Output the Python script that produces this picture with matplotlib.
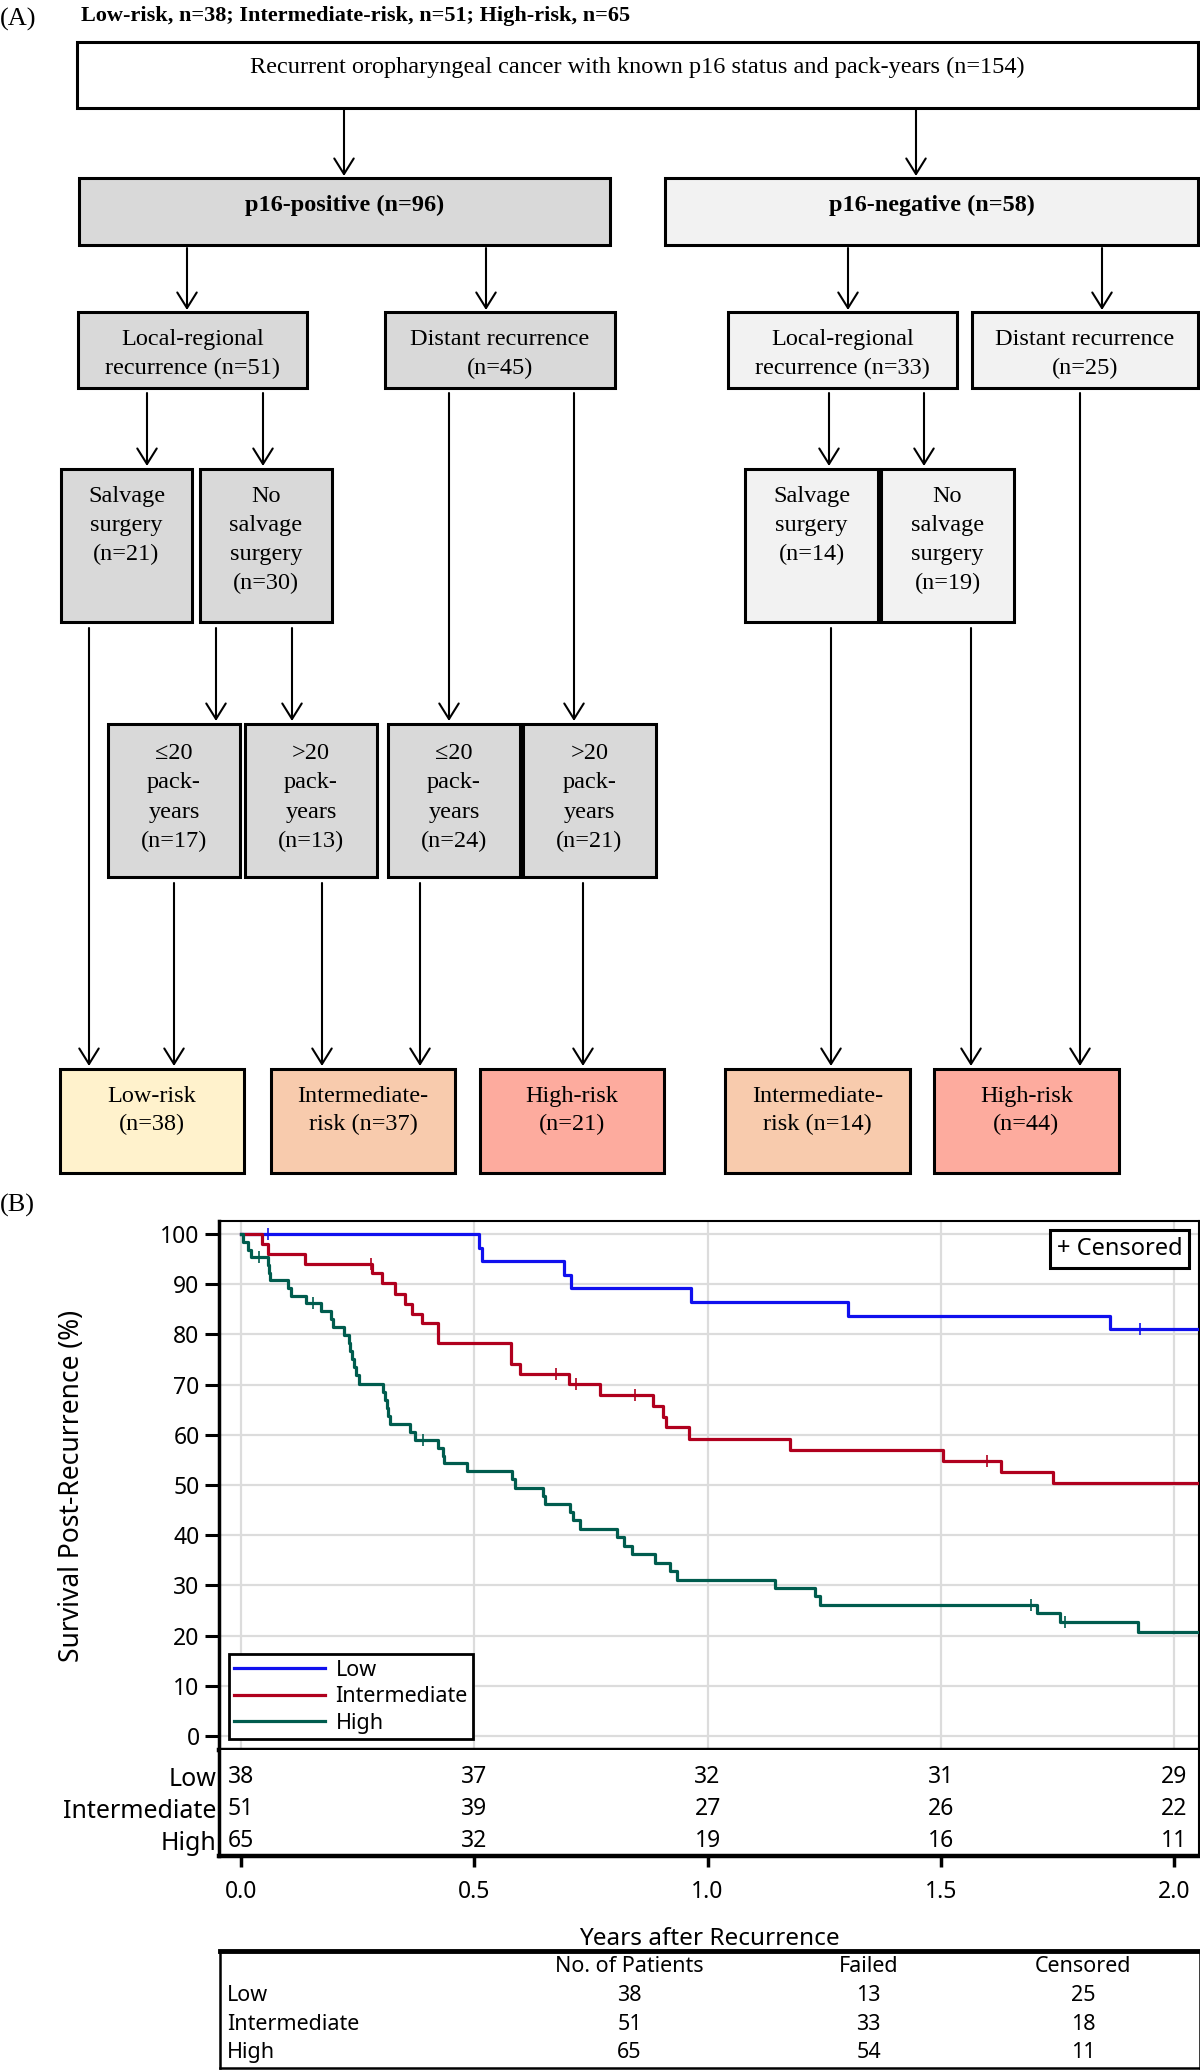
import numpy as np
import matplotlib
matplotlib.use('Agg')
import matplotlib.pyplot as plt
from matplotlib.patches import Rectangle

# ------------------------------------------------------------------ data
panel_a_title = "Low-risk, n=38; Intermediate-risk, n=51; High-risk, n=65"
top_label = "Recurrent oropharyngeal cancer with known p16 status and pack-years (n=154)"
p16_labels = ["p16-positive (n=96)", "p16-negative (n=58)"]
recurrence_labels = ["Local-regional\nrecurrence (n=51)", "Distant recurrence\n(n=45)",
                     "Local-regional\nrecurrence (n=33)", "Distant recurrence\n(n=25)"]
salvage_labels = ["Salvage\nsurgery\n(n=21)", "No\nsalvage\nsurgery\n(n=30)",
                  "Salvage\nsurgery\n(n=14)", "No\nsalvage\nsurgery\n(n=19)"]
packyear_labels = ["\u226420\npack-\nyears\n(n=17)", ">20\npack-\nyears\n(n=13)",
                   "\u226420\npack-\nyears\n(n=24)", ">20\npack-\nyears\n(n=21)"]
risk_labels = ["Low-risk\n(n=38)", "Intermediate-\nrisk (n=37)", "High-risk\n(n=21)",
               "Intermediate-\nrisk (n=14)", "High-risk\n(n=44)"]

groups = ["Low", "Intermediate", "High"]

times_low = [0, 0.511, 0.516, 0.692, 0.707, 0.965, 1.300, 1.863, 2.10]
surv_low = [100, 97.3, 94.6, 91.9, 89.2, 86.4, 83.7, 81.1, 81.1]
cens_low = [0.059, 1.926]

times_int = [0, 0.046, 0.059, 0.137, 0.280, 0.302, 0.330, 0.352, 0.366, 0.388, 0.423,
             0.579, 0.597, 0.704, 0.770, 0.883, 0.905, 0.910, 0.961, 1.176, 1.504,
             1.629, 1.740, 2.10]
surv_int = [100, 98.0, 96.0, 94.0, 92.2, 90.2, 88.0, 86.1, 84.1, 82.2, 78.2,
            74.1, 72.2, 70.1, 67.9, 65.7, 63.6, 61.5, 59.2, 57.0, 54.8,
            52.5, 50.3, 50.3]
cens_int = [0.278, 0.675, 0.717, 0.845, 1.598]

times_high = [0, 0.005, 0.015, 0.022, 0.057, 0.060, 0.062, 0.100, 0.107, 0.139,
              0.171, 0.192, 0.197, 0.220, 0.231, 0.234, 0.238, 0.243, 0.246, 0.252,
              0.305, 0.308, 0.312, 0.316, 0.320, 0.362, 0.373, 0.422, 0.434, 0.436,
              0.484, 0.580, 0.587, 0.648, 0.651, 0.705, 0.712, 0.726, 0.805, 0.820,
              0.838, 0.888, 0.920, 0.934, 1.145, 1.231, 1.241, 1.705, 1.755, 1.923, 2.10]
surv_high = [100, 98.5, 96.9, 95.4, 93.8, 92.3, 90.8, 89.2, 87.7, 86.2,
             84.6, 83.0, 81.4, 79.8, 78.2, 76.6, 75.1, 73.5, 71.9, 70.2,
             68.6, 67.0, 65.4, 63.8, 62.2, 60.6, 59.0, 57.4, 55.8, 54.3,
             52.7, 51.1, 49.5, 47.9, 46.2, 44.6, 43.0, 41.2, 39.6, 37.9,
             36.2, 34.5, 32.8, 31.1, 29.5, 27.8, 26.1, 24.4, 22.8, 20.8, 20.8]
cens_high = [0.039, 0.155, 0.391, 1.693, 1.765]

risk_times = [0.0, 0.5, 1.0, 1.5, 2.0]
atrisk_low = [38, 37, 32, 31, 29]
atrisk_int = [51, 39, 27, 26, 22]
atrisk_high = [65, 32, 19, 16, 11]

table_header = ["No. of Patients", "Failed", "Censored"]
n_patients = [38, 51, 65]
n_failed = [13, 33, 54]
n_censored = [25, 18, 11]

# ------------------------------------------------------------------ style
W, H = 1200, 2070
SERIF = ['Liberation Serif', 'DejaVu Serif']
SANS = ['Noto Sans', 'DejaVu Sans']
C_POS = '#d9d9d9'
C_NEG = '#f2f2f2'
C_LOW = '#fff2cc'
C_INT = '#f8cbad'
C_HIGH = '#fdab9e'
colors = {'Low': '#1010ee', 'Intermediate': '#b0001e', 'High': '#005c4e'}

fig = plt.figure(figsize=(12, 20.7), dpi=100)

# ------------------------------------------------------------------ panel A
axA = fig.add_axes([0, 0, 1, 1])
axA.set_xlim(0, W)
axA.set_ylim(H, 0)
axA.axis('off')

FS = 17.5


def box(x0, y0, x1, y1, text, fc, bold=False, top=None, ls=1.45, dy=0):
    axA.add_patch(Rectangle((x0, y0), x1 - x0, y1 - y0, fc=fc, ec='black', lw=2.2, zorder=2))
    cx = (x0 + x1) / 2
    kw = dict(ha='center', family=SERIF, fontsize=FS, linespacing=ls, zorder=3,
              fontweight='bold' if bold else 'normal')
    if top is None:
        axA.text(cx, (y0 + y1) / 2 + dy, text, va='center', **kw)
    else:
        axA.text(cx, y0 + top, text, va='top', **kw)


def arrow(x, y0, y1):
    axA.annotate('', xy=(x, y1), xytext=(x, y0),
                 arrowprops=dict(arrowstyle='->,head_length=0.8,head_width=0.5',
                                 lw=1.5, color='black', shrinkA=0, shrinkB=0,
                                 mutation_scale=14), zorder=1)


axA.text(0, 19, "(A)", family=SERIF, fontsize=19, va='center', ha='left')
axA.text(81, 16, panel_a_title, family=SERIF, fontsize=16, fontweight='bold', va='center', ha='left')
axA.text(0, 1205, "(B)", family=SERIF, fontsize=19, va='center', ha='left')

box(77, 42, 1198, 108, top_label, 'white', dy=-8)
box(79, 178, 610, 245, p16_labels[0], C_POS, bold=True, dy=-6)
box(665, 178, 1198, 245, p16_labels[1], C_NEG, bold=True, dy=-6)

rec_x = [(78, 307), (385, 615), (728, 957), (972, 1198)]
rec_c = [C_POS, C_POS, C_NEG, C_NEG]
for (x0, x1), lab, c in zip(rec_x, recurrence_labels, rec_c):
    box(x0, 312, x1, 388, lab, c, dy=4)

sal_x = [(61, 192), (200, 332), (745, 878), (881, 1014)]
for (x0, x1), lab, c in zip(sal_x, salvage_labels, rec_c):
    box(x0, 469, x1, 622, lab, c, top=17, ls=1.5)

pack_x = [(108, 240), (245, 377), (388, 520), (523, 656)]
for (x0, x1), lab in zip(pack_x, packyear_labels):
    box(x0, 724, x1, 877, lab, C_POS, top=19, ls=1.52)

risk_x = [(60, 244), (271, 455), (480, 664), (725, 910), (934, 1119)]
risk_c = [C_LOW, C_INT, C_HIGH, C_INT, C_HIGH]
for (x0, x1), lab, c in zip(risk_x, risk_labels, risk_c):
    box(x0, 1069, x1, 1173, lab, c, top=17)

arrows = [(344, 110, 176), (916, 110, 176),
          (187, 248, 310), (486, 248, 310), (848, 248, 310), (1102, 248, 310),
          (147, 393, 466), (263, 393, 466), (829, 393, 466), (924, 393, 466),
          (216, 628, 721), (292, 628, 721), (449, 393, 721), (574, 393, 721),
          (89, 628, 1066), (174, 883, 1066), (322, 883, 1066), (420, 883, 1066),
          (583, 883, 1066), (831, 628, 1066), (971, 628, 1066), (1080, 393, 1066)]
for x, y0, y1 in arrows:
    arrow(x, y0, y1)

# ------------------------------------------------------------------ panel B: KM
XL = (-0.047, 2.053)
axB = fig.add_axes([219 / W, 1 - 1750 / H, 980 / W, 529 / H])
axB.set_xlim(*XL)
axB.set_ylim(-2.8, 102.6)
axB.set_axisbelow(True)
axB.grid(True, color='#dcdcdc', lw=1.6)
axB.set_xticks(risk_times)
axB.set_yticks(np.arange(0, 101, 10))
axB.tick_params(axis='x', length=0, labelbottom=False)
axB.tick_params(axis='y', length=10, width=2.2, pad=4, labelsize=16.5)
for lab in axB.get_yticklabels():
    lab.set_family(SANS)
axB.spines['left'].set_linewidth(2.5)
axB.spines['bottom'].set_linewidth(3.2)
axB.spines['top'].set_linewidth(1.5)
axB.spines['right'].set_linewidth(1.5)

series = [("Low", times_low, surv_low, cens_low),
          ("Intermediate", times_int, surv_int, cens_int),
          ("High", times_high, surv_high, cens_high)]
for name, t, s, ct in series:
    t = np.asarray(t)
    s = np.asarray(s)
    axB.step(t, s, where='post', color=colors[name], lw=2.3, label=name, zorder=3)
    idx = np.searchsorted(t, ct, side='right') - 1
    axB.plot(ct, s[idx], ls='none', marker='|', ms=9, mew=1.2, color=colors[name], zorder=4)

leg = axB.legend(loc='lower left', bbox_to_anchor=(0.0102, 0.0208), borderaxespad=0,
                 prop={'family': SANS, 'size': 15.5}, frameon=True, fancybox=False,
                 edgecolor='black', handlelength=4.2, handletextpad=0.5,
                 borderpad=0.25, labelspacing=0.25, framealpha=1)
leg.get_frame().set_linewidth(2.0)

axB.text(0.983, 0.970, "+ Censored", transform=axB.transAxes, ha='right', va='top',
         family=SANS, fontsize=17,
         bbox=dict(boxstyle='square,pad=0.3', fc='white', ec='black', lw=2.2))

axB.set_ylabel("Survival Post-Recurrence (%)", family=SANS, fontsize=19)
axB.yaxis.set_label_coords(-0.136, 0.5)

# ------------------------------------------------------------------ at-risk table
axR = fig.add_axes([219 / W, 1 - 1856 / H, 980 / W, 106 / H])
axR.set_xlim(*XL)
axR.set_ylim(2.47, -0.84)
axR.set_xticks(risk_times)
axR.set_xticklabels([f"{v:.1f}" for v in risk_times], family=SANS, fontsize=16.5)
axR.tick_params(axis='x', length=8, width=2.5, pad=9)
axR.set_yticks([0, 1, 2])
axR.set_yticklabels(groups, family=SANS, fontsize=18)
axR.tick_params(axis='y', length=0, pad=2)
axR.spines['top'].set_visible(False)
axR.spines['left'].set_linewidth(2.5)
axR.spines['bottom'].set_linewidth(3.2)
axR.spines['right'].set_linewidth(1.5)
for row, counts in enumerate([atrisk_low, atrisk_int, atrisk_high]):
    for tt, c in zip(risk_times, counts):
        axR.text(tt, row, str(c), ha='center', va='center', family=SANS, fontsize=16.5)
axR.set_xlabel("Years after Recurrence", family=SANS, fontsize=17.5, labelpad=17)

# ------------------------------------------------------------------ summary table
axT = fig.add_axes([220 / W, 1 - 2068 / H, 980 / W, 117 / H])
axT.set_xlim(0, 1)
axT.set_ylim(3.54, -0.56)
axT.set_xticks([])
axT.set_yticks([])
for sp in ['left', 'right', 'bottom']:
    axT.spines[sp].set_linewidth(1.8)
axT.spines['top'].set_linewidth(3.5)
col_x = [0.418, 0.662, 0.881]
for cx, hdr in zip(col_x, table_header):
    axT.text(cx, 0, hdr, ha='center', va='center', family=SANS, fontsize=15.5)
for i, g in enumerate(groups):
    axT.text(0.007, i + 1, g, ha='left', va='center', family=SANS, fontsize=15.5)
    for cx, val in zip(col_x, [n_patients[i], n_failed[i], n_censored[i]]):
        axT.text(cx, i + 1, str(val), ha='center', va='center', family=SANS, fontsize=15.5)

fig.savefig('out.png', dpi=100)
